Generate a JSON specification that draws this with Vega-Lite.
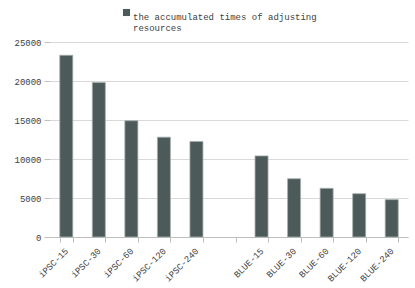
{
  "$schema": "https://vega.github.io/schema/vega-lite/v6.json",
  "autosize": "none",
  "width": 358,
  "height": 195,
  "padding": {"left": 50, "top": 42, "right": 7, "bottom": 51},
  "background": "white",
  "config": {
    "view": {"stroke": null},
    "font": "Liberation Mono",
    "axis": {"labelFont": "Liberation Mono", "labelFontSize": 9, "labelColor": "#404040"},
    "legend": {"labelFont": "Liberation Mono", "labelFontSize": 9, "labelColor": "#404040"}
  },
  "data": {
    "values": [
      {"config": "iPSC-15", "times": 23300},
      {"config": "iPSC-30", "times": 19800},
      {"config": "iPSC-60", "times": 14900},
      {"config": "iPSC-120", "times": 12800},
      {"config": "iPSC-240", "times": 12250},
      {"config": "BLUE-15", "times": 10400},
      {"config": "BLUE-30", "times": 7470},
      {"config": "BLUE-60", "times": 6240},
      {"config": "BLUE-120", "times": 5550},
      {"config": "BLUE-240", "times": 4790}
    ]
  },
  "mark": {"type": "bar", "stroke": "#a6adad", "strokeWidth": 0.8},
  "encoding": {
    "x": {
      "field": "config",
      "type": "nominal",
      "title": null,
      "scale": {
        "domain": ["iPSC-15", "iPSC-30", "iPSC-60", "iPSC-120", "iPSC-240", " ", "BLUE-15", "BLUE-30", "BLUE-60", "BLUE-120", "BLUE-240"],
        "paddingInner": 0.6,
        "paddingOuter": 0.3
      },
      "axis": {
        "labelAngle": -45,
        "labelAlign": "right",
        "labelBaseline": "middle",
        "labelPadding": 7,
        "tickBand": "extent",
        "tickSize": 5,
        "tickColor": "#bfbfbf",
        "domainColor": "#bfbfbf",
        "grid": false
      }
    },
    "y": {
      "field": "times",
      "type": "quantitative",
      "title": null,
      "scale": {"domain": [0, 25000], "nice": false},
      "axis": {
        "values": [0, 5000, 10000, 15000, 20000, 25000],
        "format": "d",
        "domain": false,
        "tickSize": 6,
        "tickColor": "#bfbfbf",
        "gridColor": "#d9d9d9",
        "labelPadding": 3
      }
    },
    "color": {
      "datum": "the accumulated times of adjusting resources",
      "type": "nominal",
      "scale": {"range": ["#4d5a5a"]},
      "legend": {
        "title": null,
        "orient": "none",
        "legendX": 72,
        "legendY": -34,
        "symbolType": "square",
        "symbolSize": 50,
        "symbolStrokeWidth": 0,
        "labelExpr": "['the accumulated times of adjusting', 'resources']",
        "labelBaseline": "top",
        "labelOffset": 2,
        "labelLimit": 0
      }
    }
  }
}
